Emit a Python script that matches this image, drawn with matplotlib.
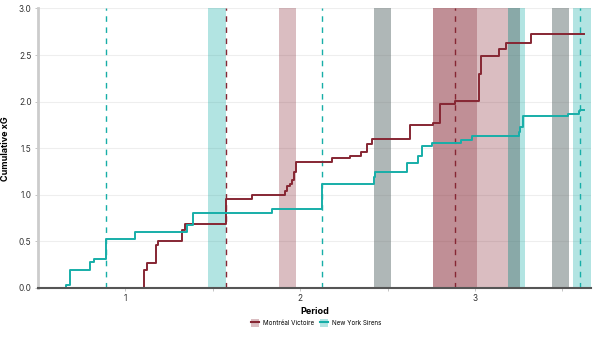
import matplotlib
matplotlib.use("Agg")
import matplotlib.pyplot as plt
from matplotlib.patches import Patch
from matplotlib.lines import Line2D

plt.rcParams['font.family'] = ['Inter', 'DejaVu Sans']

# game time in minutes, cumulative xG
mtl_t = [0, 12.17, 12.47, 13.5, 13.8, 16.54, 16.8, 21.53, 24.5, 28.26, 28.45, 28.84,
         29.1, 29.3, 29.52, 33.7, 35.7, 37.0, 37.6, 38.23, 42.53, 45.2, 45.96, 47.67,
         50.45, 50.64, 52.8, 53.57, 56.4, 62.43]
mtl_xg = [0, 0.19, 0.27, 0.46, 0.50, 0.62, 0.69, 0.95, 1.00, 1.04, 1.09, 1.12,
          1.16, 1.25, 1.35, 1.39, 1.42, 1.46, 1.55, 1.60, 1.75, 1.77, 1.97, 2.01,
          2.30, 2.49, 2.56, 2.63, 2.73, 2.73]

ny_t = [0, 3.2, 3.64, 5.93, 6.38, 7.75, 11.14, 17.04, 17.8, 26.8, 32.5, 38.4, 38.6,
        42.27, 43.5, 43.98, 45.08, 48.36, 49.7, 55.0, 55.2, 55.47, 60.65, 61.94,
        62.05, 62.43]
ny_xg = [0, 0.03, 0.19, 0.28, 0.31, 0.53, 0.60, 0.68, 0.81, 0.85, 1.12, 1.19, 1.25,
         1.34, 1.42, 1.52, 1.56, 1.59, 1.63, 1.67, 1.73, 1.85, 1.87, 1.90,
         1.91, 1.91]

mtl_goals = [21.57, 47.7]
ny_goals = [7.75, 32.45, 62.0]

# power plays (start, end)
mtl_pp = [(27.54, 29.52), (45.24, 50.18), (45.24, 53.75)]
ny_pp = [(19.5, 21.5), (53.75, 55.75), (61.25, 63.27)]
even_strength_4v4 = [(38.42, 40.37), (53.75, 55.2), (58.8, 60.8)]

period_ticks = [10, 20, 30, 40, 50, 60]
period_labels = ["1", "", "2", "", "3", ""]

MTL = "#862633"
NY = "#17aea8"

fig = plt.figure(figsize=(6, 3.38), dpi=100)
ax = fig.add_axes([0.063, 0.148, 0.922, 0.827])

for a, b in mtl_pp:
    ax.axvspan(a, b, color=MTL, alpha=0.3, lw=0)
for a, b in ny_pp:
    ax.axvspan(a, b, color=NY, alpha=0.33, lw=0)
for a, b in even_strength_4v4:
    ax.axvspan(a, b, color="#617070", alpha=0.5, lw=0)

for g in mtl_goals:
    ax.axvline(g, color=MTL, ls=(0, (4, 4)), lw=1)
for g in ny_goals:
    ax.axvline(g, color=NY, ls=(0, (4, 4)), lw=1)

ax.step(mtl_t, mtl_xg, where="post", color=MTL, lw=1.4)
ax.step(ny_t, ny_xg, where="post", color=NY, lw=1.4)

ax.set_xlim(0, 63.27)
ax.set_ylim(0, 3.0)
ax.set_yticks([0, 0.5, 1.0, 1.5, 2.0, 2.5, 3.0])
ax.set_yticklabels(["0.0", "0.5", "1.0", "1.5", "2.0", "2.5", "3.0"])
ax.set_xticks(period_ticks)
ax.set_xticklabels(period_labels)
ax.tick_params(labelsize=6, colors="#333333", length=2.5, width=0.6)
ax.tick_params(axis="x", color="#bbbbbb", pad=2)
ax.tick_params(axis="y", color="#bbbbbb", pad=2)
ax.grid(axis="y", color="#eeeeee", lw=0.8)
ax.set_axisbelow(True)

for s in ["top", "right"]:
    ax.spines[s].set_visible(False)
ax.spines["left"].set_color("#cccccc")
ax.spines["left"].set_linewidth(2)
ax.spines["bottom"].set_color("#555555")
ax.spines["bottom"].set_linewidth(1.5)

ax.set_ylabel("Cumulative xG", fontsize=6.5, fontweight="bold", labelpad=6)
ax.set_xlabel("Period", fontsize=6.5, fontweight="bold", labelpad=3)

handles = [
    (Patch(facecolor=MTL, alpha=0.3, lw=0), Line2D([], [], color=MTL, lw=1.5)),
    (Patch(facecolor=NY, alpha=0.33, lw=0), Line2D([], [], color=NY, lw=1.5)),
]
fig.legend(handles, ["Montréal Victoire", "New York Sirens"], loc="center",
           bbox_to_anchor=(0.527, 0.044), ncol=2, frameon=False, fontsize=4.5,
           handlelength=1.3, handleheight=1.6, columnspacing=0.9, handletextpad=0.6)

fig.savefig("out.png", dpi=100)
